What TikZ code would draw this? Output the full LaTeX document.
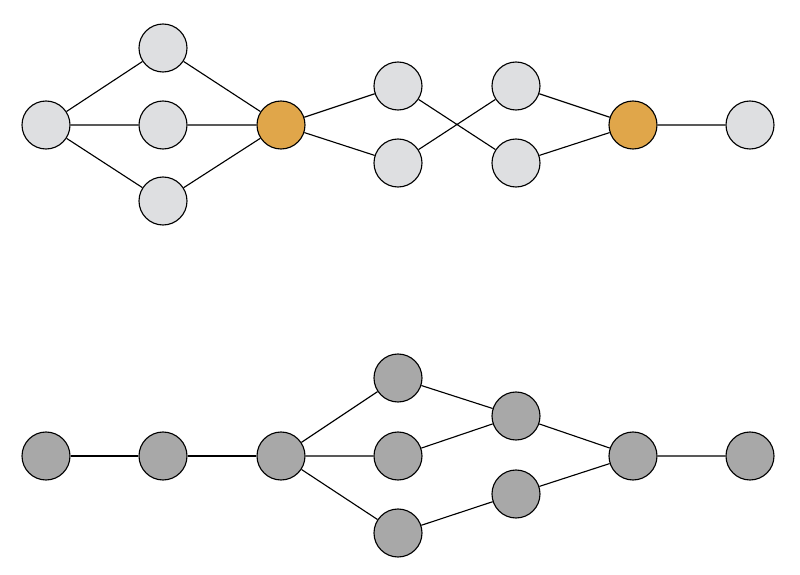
\documentclass[tikz,border=0pt]{standalone}
\usepackage{tikz}

\definecolor{lightnode}{HTML}{DEDFE1}
\definecolor{cutnode}{HTML}{E0A64A}
\definecolor{darknode}{HTML}{A8A8A8}

\begin{document}
\begin{tikzpicture}[line width=0.8pt,
  vtx/.style={circle,draw=black,minimum size=1.2cm,inner sep=0pt},
  lite/.style={vtx,fill=lightnode},
  cut/.style={vtx,fill=cutnode},
  dark/.style={vtx,fill=darknode}]
  \useasboundingbox (0,0) rectangle (20,14.375);
  % upper graph
  \node[lite] (ta)  at (1.15,11.25){};
  \node[lite] (tb1) at (4.075,13.175){};
  \node[lite] (tb2) at (4.075,11.25){};
  \node[lite] (tb3) at (4.075,9.35){};
  \node[cut]  (tc)  at (7.025,11.25){};
  \node[lite] (td1) at (9.95,12.225){};
  \node[lite] (td2) at (9.95,10.3){};
  \node[lite] (te1) at (12.9,12.225){};
  \node[lite] (te2) at (12.9,10.3){};
  \node[cut]  (tf)  at (15.825,11.25){};
  \node[lite] (tg)  at (18.75,11.25){};
  \draw (ta)--(tb1) (ta)--(tb2) (ta)--(tb3);
  \draw (tb1)--(tc) (tb2)--(tc) (tb3)--(tc);
  \draw (tc)--(td1) (tc)--(td2);
  \draw (td1)--(te2) (td2)--(te1);
  \draw (te1)--(tf) (te2)--(tf) (tf)--(tg);
  % lower graph
  \node[dark] (ba)  at (1.15,2.975){};
  \node[dark] (bb)  at (4.075,2.975){};
  \node[dark] (bc)  at (7.025,2.975){};
  \node[dark] (bd1) at (9.95,4.925){};
  \node[dark] (bd2) at (9.95,2.975){};
  \node[dark] (bd3) at (9.95,1.05){};
  \node[dark] (be1) at (12.9,3.975){};
  \node[dark] (be2) at (12.9,2.025){};
  \node[dark] (bf)  at (15.825,2.975){};
  \node[dark] (bg)  at (18.75,2.975){};
  \draw (ba)--(bb) (bb)--(bc);
  \draw (bc)--(bd1) (bc)--(bd2) (bc)--(bd3);
  \draw (bd1)--(be1) (bd2)--(be1) (bd3)--(be2);
  \draw (be1)--(bf) (be2)--(bf) (bf)--(bg);
\end{tikzpicture}
\end{document}
